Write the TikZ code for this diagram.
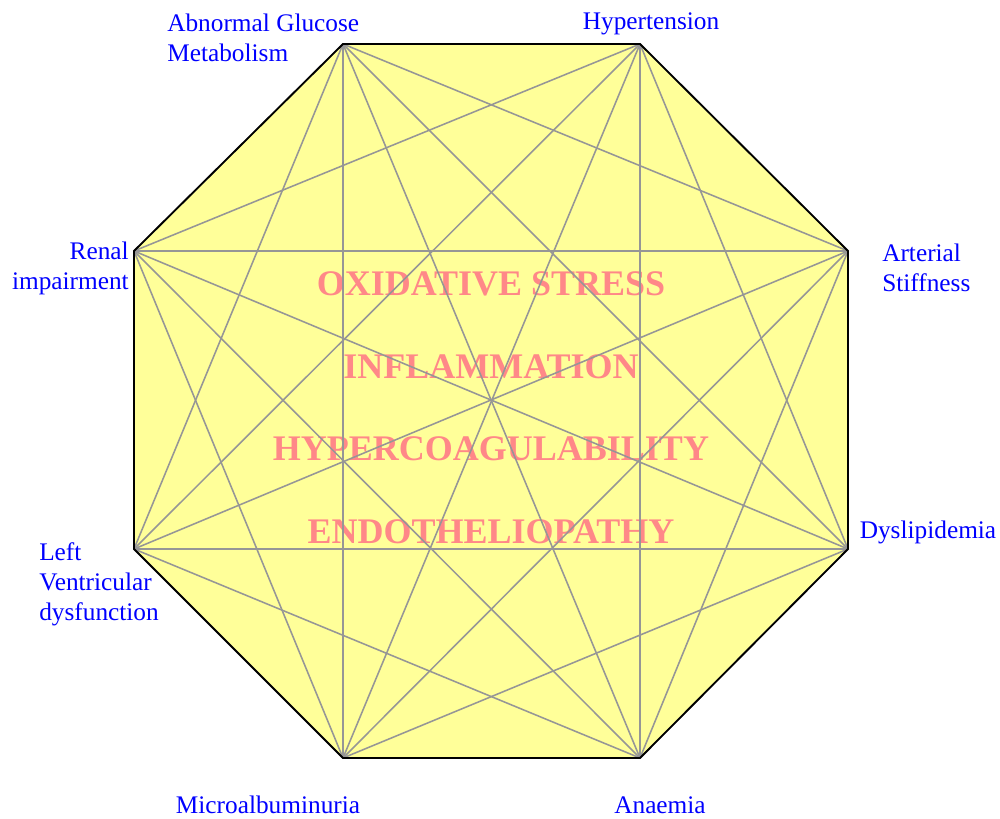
\documentclass[tikz,border=0pt]{standalone}
\usepackage{fontspec}
\setmainfont{Liberation Serif}
\definecolor{padyellow}{RGB}{255,255,153}
\definecolor{chordgray}{RGB}{150,150,150}
\definecolor{riskblue}{RGB}{0,0,255}
\definecolor{mechred}{RGB}{255,136,136}
\begin{document}
\begin{tikzpicture}[x=0.025cm, y=-0.025cm,
    riskname/.style={text=riskblue, inner sep=0pt, font=\fontsize{18}{21.3}\selectfont},
    mechanism/.style={text=mechred, inner sep=0pt, font=\fontsize{25.6}{30}\selectfont\bfseries},
    chord/.style={draw=chordgray, line width=1.1pt}]
    \useasboundingbox (0,0) rectangle (1000,819);
    % corners of the octagon
    \coordinate (v1) at (343,44);
    \coordinate (v2) at (640,44);
    \coordinate (v3) at (848,251);
    \coordinate (v4) at (848,549);
    \coordinate (v5) at (640,758);
    \coordinate (v6) at (343,758);
    \coordinate (v7) at (134,549);
    \coordinate (v8) at (134,251);
    \fill[padyellow] (v1) -- (v2) -- (v3) -- (v4) -- (v5) -- (v6) -- (v7) -- (v8) -- cycle;
    \node[mechanism] (oxid) at (491,284) {OXIDATIVE STRESS};
    \node[mechanism] (infl) at (491,367) {INFLAMMATION};
    \node[mechanism] (coag) at (491,449) {HYPERCOAGULABILITY};
    \node[mechanism] (endo) at (491,532) {ENDOTHELIOPATHY};
    \foreach \i in {1,...,7} {
        \pgfmathtruncatemacro{\k}{\i+1}
        \foreach \j in {\k,...,8}
        \draw[chord] (v\i) -- (v\j);
    }
    \draw[line width=1.3pt] (v1) -- (v2) -- (v3) -- (v4) -- (v5) -- (v6) -- (v7) -- (v8) -- cycle;
    % risk factors
    \node[riskname, anchor=west, align=left] (glucose) at (167,38) {Abnormal Glucose\\Metabolism};
    \node[riskname] (hyper) at (651,24) {Hypertension};
    \node[riskname, anchor=west, align=left] (stiff) at (882,268) {Arterial\\Stiffness};
    \node[riskname] (dyslip) at (928,532) {Dyslipidemia};
    \node[riskname] (anaemia) at (660,805) {Anaemia};
    \node[riskname] (microalb) at (268,805) {Microalbuminuria};
    \node[riskname, anchor=west, align=left] (lvdys) at (39,584) {Left\\Ventricular\\dysfunction};
    \node[riskname, anchor=east, align=right] (renal) at (129,268) {Renal\\impairment};
\end{tikzpicture}
\end{document}
